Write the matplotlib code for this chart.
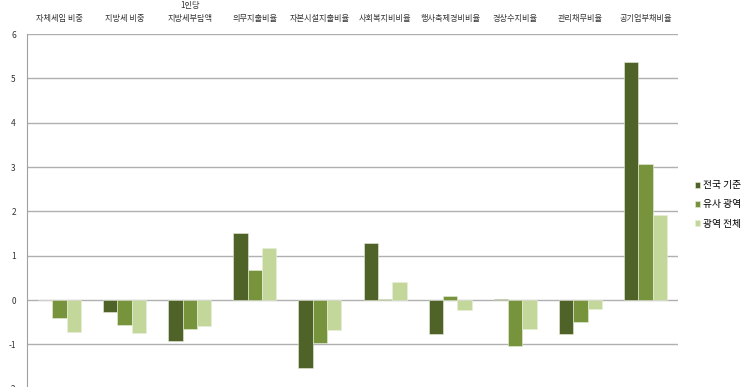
import numpy as np
import matplotlib
matplotlib.use("Agg")
import matplotlib.pyplot as plt

plt.rcParams['font.family'] = ['Noto Sans CJK KR', 'DejaVu Sans']

categories = ["자체세입 비중", "지방세 비중", "1인당\n지방세부담액", "의무지출비율", "자본시설지출비율",
              "사회복지비비율", "행사축제경비비율", "경상수지비율", "관리채무비율", "공기업부채비율"]
series_names = ["전국 기준", "유사 광역", "광역 전체"]
national = [0.0, -0.26, -0.92, 1.51, -1.54, 1.29, -0.76, 0.02, -0.77, 5.36]
similar = [-0.41, -0.55, -0.64, 0.68, -0.97, 0.03, 0.10, -1.04, -0.50, 3.07]
all_metro = [-0.73, -0.75, -0.58, 1.18, -0.68, 0.41, -0.23, -0.64, -0.20, 1.93]
colors = ["#4F6228", "#77933C", "#C4D79B"]
yticks = [-2, -1, 0, 1, 2, 3, 4, 5, 6]

fig = plt.figure(figsize=(7.52, 3.87), dpi=100)
ax = fig.add_axes([0.0359, -0.0047, 0.8657, 0.9168])

x = np.arange(len(categories))
w = 0.22
for i, (vals, name) in enumerate(zip([national, similar, all_metro], series_names)):
    ax.bar(x + (i - 1) * w, vals, w, color=colors[i], label=name, zorder=3,
           edgecolor="#E8EEDC", linewidth=0.4)

ax.set_xlim(-0.5, len(categories) - 0.5)
ax.set_ylim(-2, 6)
ax.set_yticks(yticks)
ax.set_yticklabels([str(t) for t in yticks], fontsize=6, color="#333333")
ax.grid(axis='y', color="#B0B0B0", linewidth=1, zorder=0)
ax.tick_params(axis='y', length=0, pad=8)

ax.xaxis.tick_top()
ax.set_xticks(x)
ax.set_xticklabels(categories, fontsize=5.9, color="#333333", linespacing=1.6)
ax.tick_params(axis='x', length=0, pad=8)

for s in ['top', 'right', 'bottom']:
    ax.spines[s].set_visible(False)
ax.spines['left'].set_color("#A0A0A0")
ax.spines['left'].set_zorder(4)

leg = fig.legend(loc='upper left', bbox_to_anchor=(0.912, 0.557), frameon=False,
                 fontsize=7, handlelength=0.55, handleheight=0.55, handletextpad=0.3,
                 labelspacing=0.95)

fig.savefig("out.png", dpi=100)
